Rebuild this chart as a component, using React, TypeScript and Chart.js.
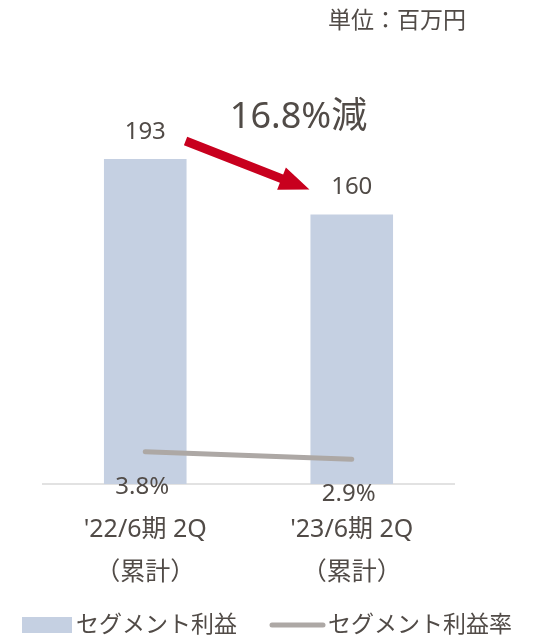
import React, { useEffect, useRef } from "react";
import { Chart, registerables } from "chart.js";

Chart.register(...registerables);

const categories: string[][] = [["'22/6期 2Q", "（累計）"], ["'23/6期 2Q", "（累計）"]];
const profitValues = [193, 160];
const marginValues = [3.8, 2.9];
const marginLabels = ["3.8%", "2.9%"];
const seriesNames = ["セグメント利益", "セグメント利益率"];
const changeLabel = "16.8%減";
const unitLabel = "単位：百万円";

const FONT = '"Noto Sans", "Noto Sans CJK JP", sans-serif';
const TEXT = "#514b47";
const BAR = "#c5d0e2";
const LINE = "#ada8a5";
const RED = "#c8001e";

const overlay = {
  id: "overlay",
  beforeDatasetsDraw(chart: any) {
    const { ctx, chartArea, scales } = chart;
    const y0 = scales.y.getPixelForValue(0);
    ctx.save();
    ctx.strokeStyle = "#d9d9d9";
    ctx.lineWidth = 1.5;
    ctx.beginPath();
    ctx.moveTo(chartArea.left, y0);
    ctx.lineTo(chartArea.right, y0);
    ctx.stroke();
    ctx.restore();
  },
  afterDatasetsDraw(chart: any) {
    const { ctx, scales } = chart;
    const x = scales.x;
    const y = scales.y;
    const y1 = scales.y1;
    const y0 = y.getPixelForValue(0);
    ctx.save();
    ctx.fillStyle = TEXT;
    ctx.textAlign = "center";
    ctx.textBaseline = "middle";

    // bar value labels
    ctx.font = `24px ${FONT}`;
    profitValues.forEach((v, i) => {
      ctx.fillText(String(v), x.getPixelForValue(i), y.getPixelForValue(v) - 27);
    });
    // margin labels
    marginValues.forEach((v, i) => {
      ctx.fillText(marginLabels[i], x.getPixelForValue(i) - 3, y1.getPixelForValue(v) + 35);
    });
    // category labels
    ctx.font = `25px ${FONT}`;
    categories.forEach((lines, i) => {
      lines.forEach((t, j) => {
        ctx.fillText(t, x.getPixelForValue(i), y0 + 46 + j * 43);
      });
    });

    // unit label
    ctx.textAlign = "right";
    ctx.font = `23px ${FONT}`;
    ctx.fillText(unitLabel, 466, 21);

    // change label
    ctx.textAlign = "center";
    ctx.font = `36px ${FONT}`;
    ctx.fillText(changeLabel, (x.getPixelForValue(0) + x.getPixelForValue(1)) / 2 + 50, 118);

    // arrow
    const meta = chart.getDatasetMeta(1);
    const b0 = meta.data[0];
    const b1 = meta.data[1];
    const sx = b0.x + b0.width / 2 - 1;
    const sy = y.getPixelForValue(profitValues[0]) - 18;
    const ex = b1.x - b1.width / 2 - 1;
    const ey = y.getPixelForValue(profitValues[1]) - 25;
    const ang = Math.atan2(ey - sy, ex - sx);
    const len = Math.hypot(ex - sx, ey - sy);
    ctx.translate(sx, sy);
    ctx.rotate(ang);
    const hl = 30, hw = 12, sw = 4.5;
    ctx.fillStyle = RED;
    ctx.beginPath();
    ctx.moveTo(0, -sw);
    ctx.lineTo(len - hl, -sw);
    ctx.lineTo(len - hl, -hw);
    ctx.lineTo(len, 0);
    ctx.lineTo(len - hl, hw);
    ctx.lineTo(len - hl, sw);
    ctx.lineTo(0, sw);
    ctx.closePath();
    ctx.fill();
    ctx.setTransform(chart.currentDevicePixelRatio, 0, 0, chart.currentDevicePixelRatio, 0, 0);

    // legend
    ctx.fillStyle = BAR;
    ctx.fillRect(22, 617, 50, 16);
    ctx.fillStyle = TEXT;
    ctx.font = `23px ${FONT}`;
    ctx.textAlign = "left";
    ctx.fillText(seriesNames[0], 76, 625);
    ctx.strokeStyle = LINE;
    ctx.lineWidth = 5;
    ctx.lineCap = "round";
    ctx.beginPath();
    ctx.moveTo(272, 625);
    ctx.lineTo(323, 625);
    ctx.stroke();
    ctx.fillText(seriesNames[1], 328, 625);
    ctx.restore();
  },
};

export default function App() {
  const ref = useRef<HTMLCanvasElement>(null);
  useEffect(() => {
    if (!ref.current) return;
    const chart = new Chart(ref.current, {
      type: "bar",
      data: {
        labels: categories.map((c) => c.join(" ")),
        datasets: [
          {
            type: "line",
            label: seriesNames[1],
            data: marginValues,
            yAxisID: "y1",
            borderColor: LINE,
            borderWidth: 5,
            borderCapStyle: "round",
            pointRadius: 0,
            order: 0,
          } as any,
          {
            type: "bar",
            label: seriesNames[0],
            data: profitValues,
            yAxisID: "y",
            backgroundColor: BAR,
            barPercentage: 0.4,
            categoryPercentage: 1,
            order: 1,
          },
        ],
      },
      options: {
        responsive: false,
        animation: false,
        layout: { padding: { left: 42, right: 79, top: 63, bottom: 154 } },
        plugins: { legend: { display: false }, tooltip: { enabled: false } },
        scales: {
          x: { display: false },
          y: { display: false, min: 0, max: 250 },
          y1: { display: false, min: 0, max: 49.5, position: "right" },
        },
      },
      plugins: [overlay],
    });
    return () => chart.destroy();
  }, []);
  return (
    <div style={{ position: "absolute", left: 0, top: 0, width: 534, height: 638, background: "#fff" }}>
      <canvas ref={ref} width={534} height={638} />
    </div>
  );
}
